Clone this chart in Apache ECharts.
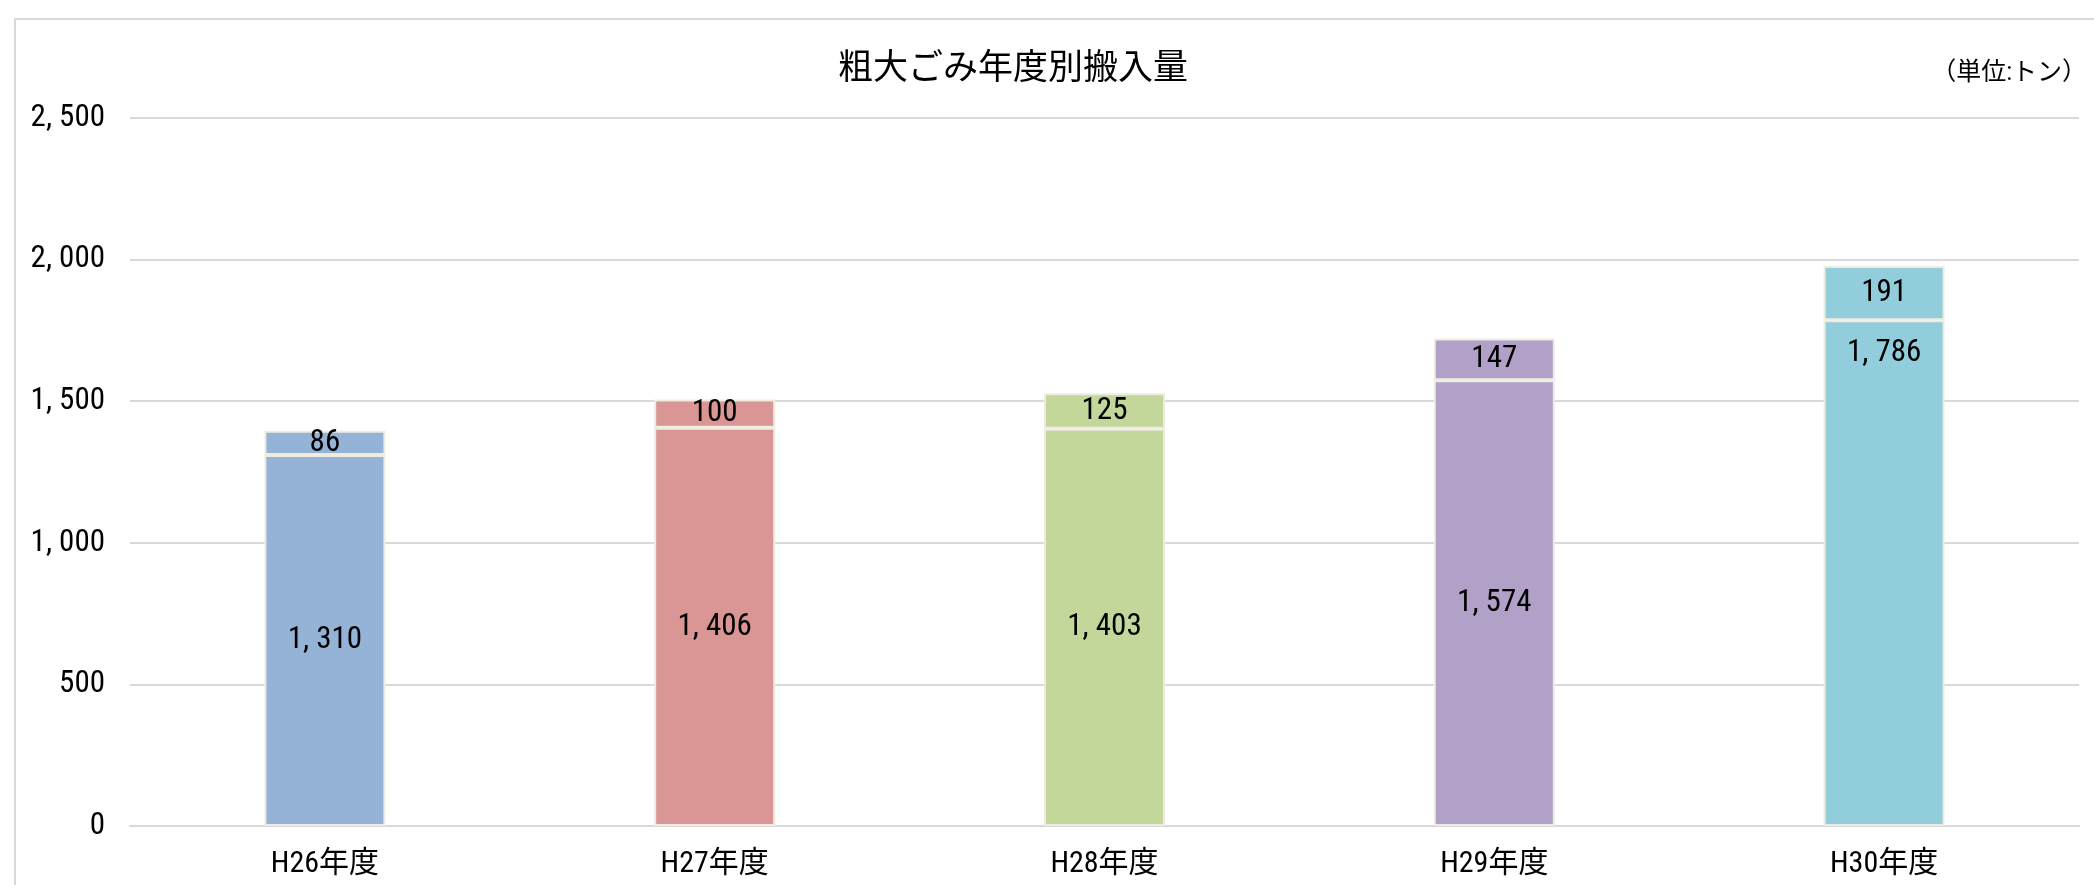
<!DOCTYPE html>
<html>
<head>
<meta charset="utf-8">
<script src="https://cdn.jsdelivr.net/npm/echarts@6/dist/echarts.min.js"></script>
<style>
html,body{margin:0;padding:0;background:#fff;}
#chart{width:2094px;height:885px;}
</style>
</head>
<body>
<div id="chart"></div>
<script>
const categories = ['H26年度', 'H27年度', 'H28年度', 'H29年度', 'H30年度'];
const baseValues = [1310, 1406, 1403, 1574, 1786];
const topValues = [86, 100, 125, 147, 191];
const barColors = ['#95B3D7', '#DA9694', '#C4D79B', '#B1A0C7', '#92CDDC'];
const titleText = '粗大ごみ年度別搬入量';
const unitText = '（単位:トン）';

const FONT = '"Roboto Condensed", "Noto Sans CJK JP", sans-serif';
const CJK = '"Noto Sans CJK JP", sans-serif';
function fmt(v) {
  return String(v).replace(/\B(?=(\d{3})+(?!\d))/g, ', ');
}

const chart = echarts.init(document.getElementById('chart'), null, {renderer: 'canvas'});
const baseData = baseValues.map((v, i) => {
  const d = {value: v, itemStyle: {color: barColors[i]}};
  if (i === 4) d.label = {position: 'insideTop', distance: 18};
  return d;
});
const topData = topValues.map((v, i) => ({value: v, itemStyle: {color: barColors[i]}}));

const labelStyle = {show: true, position: 'inside', fontFamily: FONT, fontSize: 31, color: '#000', formatter: p => fmt(p.value)};

chart.setOption({
  animation: false,
  backgroundColor: '#ffffff',
  title: {
    text: titleText,
    left: 838,
    top: 48,
    padding: 0,
    textStyle: {fontFamily: CJK, fontSize: 35, fontWeight: 'normal', color: '#000'}
  },
  graphic: [
    {type: 'rect', shape: {x: 15, y: 19, width: 2200, height: 1000}, style: {fill: 'none', stroke: '#d9d9d9', lineWidth: 2}, silent: true, z: -1},
    {type: 'text', x: 2087, y: 74, style: {text: unitText, align: 'right', verticalAlign: 'middle', font: '25px ' + FONT, fill: '#000'}}
  ],
  grid: {left: 130, right: 15, top: 118, bottom: 59, containLabel: false},
  xAxis: {
    type: 'category',
    data: categories,
    axisTick: {show: false},
    axisLine: {lineStyle: {color: '#d9d9d9', width: 2}},
    axisLabel: {fontFamily: FONT, fontSize: 30, color: '#000', margin: 23}
  },
  yAxis: {
    type: 'value',
    min: 0, max: 2500, interval: 500,
    axisLine: {show: false},
    axisTick: {show: false},
    splitLine: {lineStyle: {color: '#d9d9d9', width: 2}},
    axisLabel: {fontFamily: FONT, fontSize: 31, color: '#000', margin: 25, formatter: fmt}
  },
  series: [
    {
      type: 'bar', stack: 'total', data: baseData, barWidth: 121,
      itemStyle: {borderColor: '#EEECE1', borderWidth: 2},
      label: labelStyle
    },
    {
      type: 'bar', stack: 'total', data: topData, barWidth: 121,
      itemStyle: {borderColor: '#EEECE1', borderWidth: 2},
      label: labelStyle
    }
  ]
});
</script>
</body>
</html>
